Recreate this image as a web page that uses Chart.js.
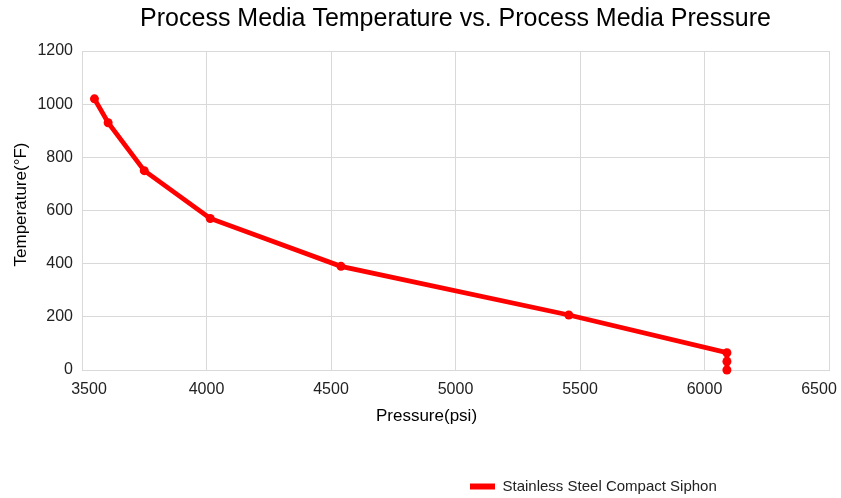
<!DOCTYPE html>
<html>
<head>
<meta charset="utf-8">
<script src="https://cdn.jsdelivr.net/npm/chart.js@4/dist/chart.umd.min.js"></script>
<style>
  html, body { margin: 0; padding: 0; background: #ffffff; }
  #wrap { width: 841px; height: 498px; }
</style>
</head>
<body>
<div id="wrap"><canvas id="c" width="841" height="498"></canvas></div>
<script>
const chartTitle = 'Process Media Temperature vs. Process Media Pressure';
const seriesName = 'Stainless Steel Compact Siphon';
const xAxisTitle = 'Pressure(psi)';
const yAxisTitle = 'Temperature(°F)';
const pressure = [3550, 3605, 3750, 4015, 4540, 5455, 6090, 6090, 6090];
const temperature = [1020, 930, 750, 570, 390, 207, 65, 32, 0];
const xTicks = [3500, 4000, 4500, 5000, 5500, 6000, 6500];
const yTicks = [0, 200, 400, 600, 800, 1000, 1200];

const FONT = "'Liberation Sans', Arial, sans-serif";
const points = pressure.map((p, i) => ({ x: p, y: temperature[i] }));

const layoutTweaks = {
  id: 'layoutTweaks',
  beforeDraw(chart) {
    const lg = chart.legend;
    if (lg && !lg._tweaked) {
      lg.left = 460; lg.right = 841;
      lg.top += 6; lg.bottom += 6;
      lg._tweaked = true;
    }
    const xs = chart.scales.x;
    const items = xs.getLabelItems(chart.chartArea);
    if (items && items.length && !items._tweaked) {
      items[0].options.translation[0] += 7;
      items[items.length - 1].options.translation[0] -= 10;
      items._tweaked = true;
    }
    if (!xs._titlePatched) {
      const origX = xs.drawTitle;
      xs.drawTitle = function () {
        const l = this.left; this.left -= 58; origX.call(this); this.left = l;
      };
      xs._titlePatched = true;
    }
    const ys = chart.scales.y;
    if (!ys._titlePatched) {
      const origY = ys.drawTitle;
      ys.drawTitle = function () {
        const t = this.top; this.top -= 12; origY.call(this); this.top = t;
      };
      ys._titlePatched = true;
    }
  },
  afterUpdate(chart) { if (chart.legend) chart.legend._tweaked = false; }
};

new Chart(document.getElementById('c'), {
  type: 'scatter',
  data: {
    datasets: [{
      label: seriesName,
      data: points,
      showLine: true,
      borderColor: '#ff0000',
      backgroundColor: '#ff0000',
      borderWidth: 4.8,
      pointRadius: 4.5,
      pointHoverRadius: 4.5,
      pointBackgroundColor: '#ff0000',
      pointBorderColor: '#ff0000',
      pointBorderWidth: 0,
      clip: false,
      tension: 0
    }]
  },
  options: {
    responsive: false,
    devicePixelRatio: 1,
    animation: false,
    layout: { padding: { left: 0, right: 12, top: 0, bottom: 0 } },
    plugins: {
      title: {
        display: true,
        text: chartTitle,
        fullSize: false,
        color: '#000000',
        font: { family: FONT, size: 25, weight: 'normal' },
        padding: { top: 4, bottom: 17 }
      },
      legend: {
        display: true,
        position: 'bottom',
        align: 'start',
        labels: {
          color: '#222222',
          font: { family: FONT, size: 15 },
          boxWidth: 25,
          boxHeight: 6,
          padding: 10,
          generateLabels(chart) {
            return Chart.defaults.plugins.legend.labels.generateLabels(chart)
              .map(l => Object.assign(l, { lineWidth: 0 }));
          }
        }
      },
      tooltip: { enabled: false }
    },
    scales: {
      x: {
        type: 'linear',
        min: 3500,
        max: 6500,
        afterBuildTicks(scale) { scale.ticks = xTicks.map(v => ({ value: v })); },
        afterFit(scale) { scale.height = 93; scale.paddingLeft = 0; scale.paddingRight = 0; },
        grid: { color: '#d9d9d9', drawTicks: false, lineWidth: 1 },
        border: { color: '#d9d9d9' },
        ticks: {
          color: '#222222', font: { family: FONT, size: 16 }, padding: 10, maxRotation: 0,
          callback: v => String(v)
        },
        title: {
          display: true, text: xAxisTitle, color: '#000000',
          font: { family: FONT, size: 17 }, padding: { top: 0, bottom: 36 }
        }
      },
      y: {
        type: 'linear',
        min: 0,
        max: 1200,
        afterBuildTicks(scale) { scale.ticks = yTicks.map(v => ({ value: v })); },
        afterFit(scale) { scale.width = 82; },
        grid: { color: '#d9d9d9', drawTicks: false, lineWidth: 1 },
        border: { color: '#d9d9d9' },
        ticks: {
          color: '#222222', font: { family: FONT, size: 16 }, padding: 9,
          callback: v => String(v)
        },
        title: {
          display: true, text: yAxisTitle, color: '#000000',
          font: { family: FONT, size: 17 }, padding: { top: 11, bottom: 0 }
        }
      }
    }
  },
  plugins: [layoutTweaks]
});
</script>
</body>
</html>
